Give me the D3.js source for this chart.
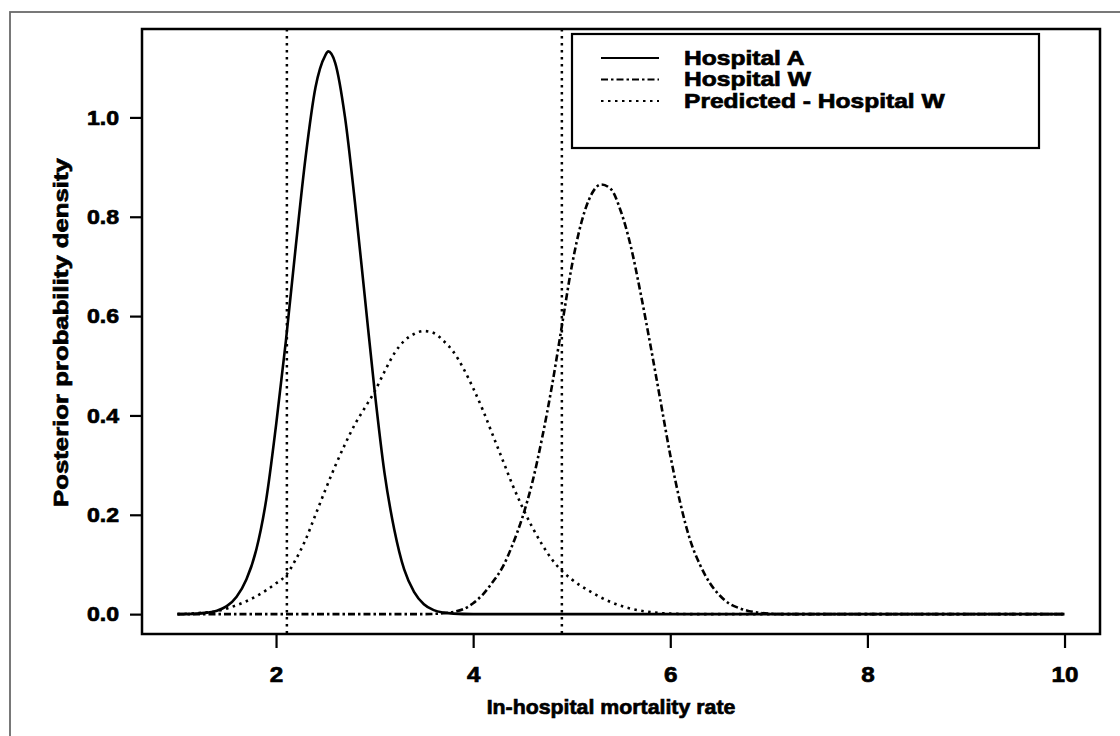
<!DOCTYPE html>
<html><head><meta charset="utf-8">
<script src="https://cdn.jsdelivr.net/npm/d3@7"></script>
<style>
html,body{margin:0;padding:0;background:#fff;}
svg text{font-family:"Liberation Sans",Arial,Helvetica,sans-serif;font-weight:bold;fill:#000;stroke:#000;stroke-width:0.7px;}
</style></head><body>
<svg id="c" width="1120" height="736"></svg>
<script>
// ---------- data ----------
const seriesNames = ["Hospital A", "Hospital W", "Predicted - Hospital W"];

const hospitalA_x = [1.0, 1.2, 1.3, 1.4, 1.5, 1.6, 1.7, 1.8, 1.9, 2.0, 2.1, 2.2, 2.3, 2.4, 2.5, 2.53, 2.6, 2.7, 2.8, 2.9, 3.0, 3.1, 3.2, 3.3, 3.4, 3.5, 3.6, 3.7, 3.8, 4.0, 10.0];
const hospitalA_y = [0.000, 0.001, 0.003, 0.007, 0.016, 0.035, 0.07, 0.13, 0.23, 0.38, 0.55, 0.74, 0.92, 1.06, 1.125, 1.133, 1.11, 1.0, 0.83, 0.64, 0.45, 0.285, 0.17, 0.09, 0.045, 0.02, 0.008, 0.003, 0.001, 0.0, 0.0];

const hospitalW_x = [1.0, 3.5, 3.7, 3.9, 4.0, 4.1, 4.2, 4.3, 4.4, 4.5, 4.6, 4.7, 4.8, 4.9, 5.0, 5.1, 5.2, 5.3, 5.4, 5.5, 5.6, 5.7, 5.8, 5.9, 6.0, 6.1, 6.2, 6.3, 6.4, 6.5, 6.6, 6.7, 6.8, 6.9, 7.0, 7.2, 10.0];
const hospitalW_y = [0.0, 0.0, 0.002, 0.01, 0.022, 0.04, 0.065, 0.095, 0.14, 0.195, 0.265, 0.355, 0.46, 0.58, 0.70, 0.79, 0.845, 0.865, 0.855, 0.81, 0.74, 0.645, 0.54, 0.43, 0.32, 0.225, 0.15, 0.10, 0.063, 0.038, 0.021, 0.012, 0.006, 0.003, 0.001, 0.0, 0.0];

const predicted_x = [1.0, 1.2, 1.4, 1.6, 1.8, 2.0, 2.1, 2.2, 2.3, 2.4, 2.5, 2.6, 2.7, 2.8, 2.9, 3.0, 3.1, 3.2, 3.3, 3.4, 3.5, 3.6, 3.7, 3.8, 3.9, 4.0, 4.1, 4.2, 4.3, 4.4, 4.5, 4.6, 4.7, 4.8, 4.9, 5.0, 5.2, 5.4, 5.6, 5.8, 6.0, 6.3, 10.0];
const predicted_y = [0.0, 0.002, 0.006, 0.018, 0.036, 0.062, 0.078, 0.11, 0.15, 0.20, 0.25, 0.298, 0.342, 0.382, 0.415, 0.448, 0.488, 0.525, 0.55, 0.564, 0.57, 0.566, 0.55, 0.528, 0.495, 0.455, 0.41, 0.36, 0.31, 0.26, 0.215, 0.175, 0.14, 0.11, 0.087, 0.07, 0.044, 0.024, 0.011, 0.004, 0.001, 0.0, 0.0];

const refLines = [2.11, 4.90];
const xTicks = [2, 4, 6, 8, 10];
const yTicks = [0.0, 0.2, 0.4, 0.6, 0.8, 1.0];
const xLabel = "In-hospital mortality rate";
const yLabel = "Posterior probability density";

// ---------- layout ----------
const P = {left: 142, right: 1100, top: 29, bottom: 634};
const svg = d3.select("#c");

const x = d3.scaleLinear().domain([0.64, 10.36]).range([P.left, P.right]);
const y = d3.scaleLinear().domain([-0.040, 1.178]).range([P.bottom, P.top]);

function stretch(sel, f) {
  sel.each(function () {
    const L = this.getComputedTextLength();
    this.setAttribute("textLength", (L * f).toFixed(1));
    this.setAttribute("lengthAdjust", "spacingAndGlyphs");
  });
}

// outer figure frame
svg.append("rect").attr("x", 10).attr("y", 12).attr("width", 1120).attr("height", 740)
  .attr("fill", "none").attr("stroke", "#6a6a6a").attr("stroke-width", 1.8);

const styles = [
  {dash: null},
  {dash: "7,3,2.5,3"},
  {dash: "2.5,4.5"}
];
const series = [
  hospitalA_x.map((v, i) => [v, hospitalA_y[i]]),
  hospitalW_x.map((v, i) => [v, hospitalW_y[i]]),
  predicted_x.map((v, i) => [v, predicted_y[i]])
];

// vertical reference lines
svg.append("g").selectAll("line").data(refLines).join("line")
  .attr("x1", d => x(d)).attr("x2", d => x(d))
  .attr("y1", P.top).attr("y2", P.bottom)
  .attr("stroke", "#000").attr("stroke-width", 2.5).attr("stroke-dasharray", "2.5,4.5");

const line = d3.line().x(d => x(d[0])).y(d => y(d[1])).curve(d3.curveMonotoneX);
svg.append("g").selectAll("path").data(series).join("path")
  .attr("d", line)
  .attr("fill", "none").attr("stroke", "#000").attr("stroke-width", 2.6)
  .attr("stroke-linejoin", "round")
  .attr("stroke-dasharray", (d, i) => styles[i].dash);

// plot box
svg.append("rect").attr("x", P.left).attr("y", P.top)
  .attr("width", P.right - P.left).attr("height", P.bottom - P.top)
  .attr("fill", "none").attr("stroke", "#000").attr("stroke-width", 2.5);

// axes
const gx = svg.append("g").attr("transform", `translate(0,${P.bottom})`)
  .call(d3.axisBottom(x).tickValues(xTicks).tickSize(14).tickPadding(18).tickFormat(d3.format("d")));
gx.select(".domain").remove();
gx.selectAll(".tick line").attr("stroke", "#000").attr("stroke-width", 2.2);
gx.selectAll(".tick text").attr("font-size", 22).attr("font-family", null);
stretch(gx.selectAll(".tick text"), 1.1);

const gy = svg.append("g").attr("transform", `translate(${P.left},0)`)
  .call(d3.axisLeft(y).tickValues(yTicks).tickSize(12).tickPadding(11).tickFormat(d3.format(".1f")));
gy.select(".domain").remove();
gy.selectAll(".tick line").attr("stroke", "#000").attr("stroke-width", 2.2);
gy.selectAll(".tick text").attr("font-size", 21).attr("font-family", null);
stretch(gy.selectAll(".tick text"), 1.1);

// axis titles
const xt = svg.append("text").attr("x", 611).attr("y", 714).attr("text-anchor", "middle")
  .attr("font-size", 21).text(xLabel);
stretch(xt, 1.015);
const yt = svg.append("text").attr("transform", "translate(68,332.5) rotate(-90)")
  .attr("text-anchor", "middle").attr("font-size", 21).text(yLabel);
stretch(yt, 1.225);

// legend
const lg = svg.append("g");
lg.append("rect").attr("x", 572).attr("y", 34).attr("width", 467).attr("height", 114)
  .attr("fill", "#fff").attr("stroke", "#000").attr("stroke-width", 2.2);
const lineY = [58, 79.5, 101];
const textY = [64.5, 86, 107.5];
seriesNames.forEach((name, i) => {
  lg.append("line").attr("x1", 601).attr("x2", 659).attr("y1", lineY[i]).attr("y2", lineY[i])
    .attr("stroke", "#000").attr("stroke-width", 2.2).attr("stroke-dasharray", styles[i].dash);
  const t = lg.append("text").attr("x", 684).attr("y", textY[i]).attr("font-size", 21).text(name);
  stretch(t, 1.17);
});
</script>
</body></html>
